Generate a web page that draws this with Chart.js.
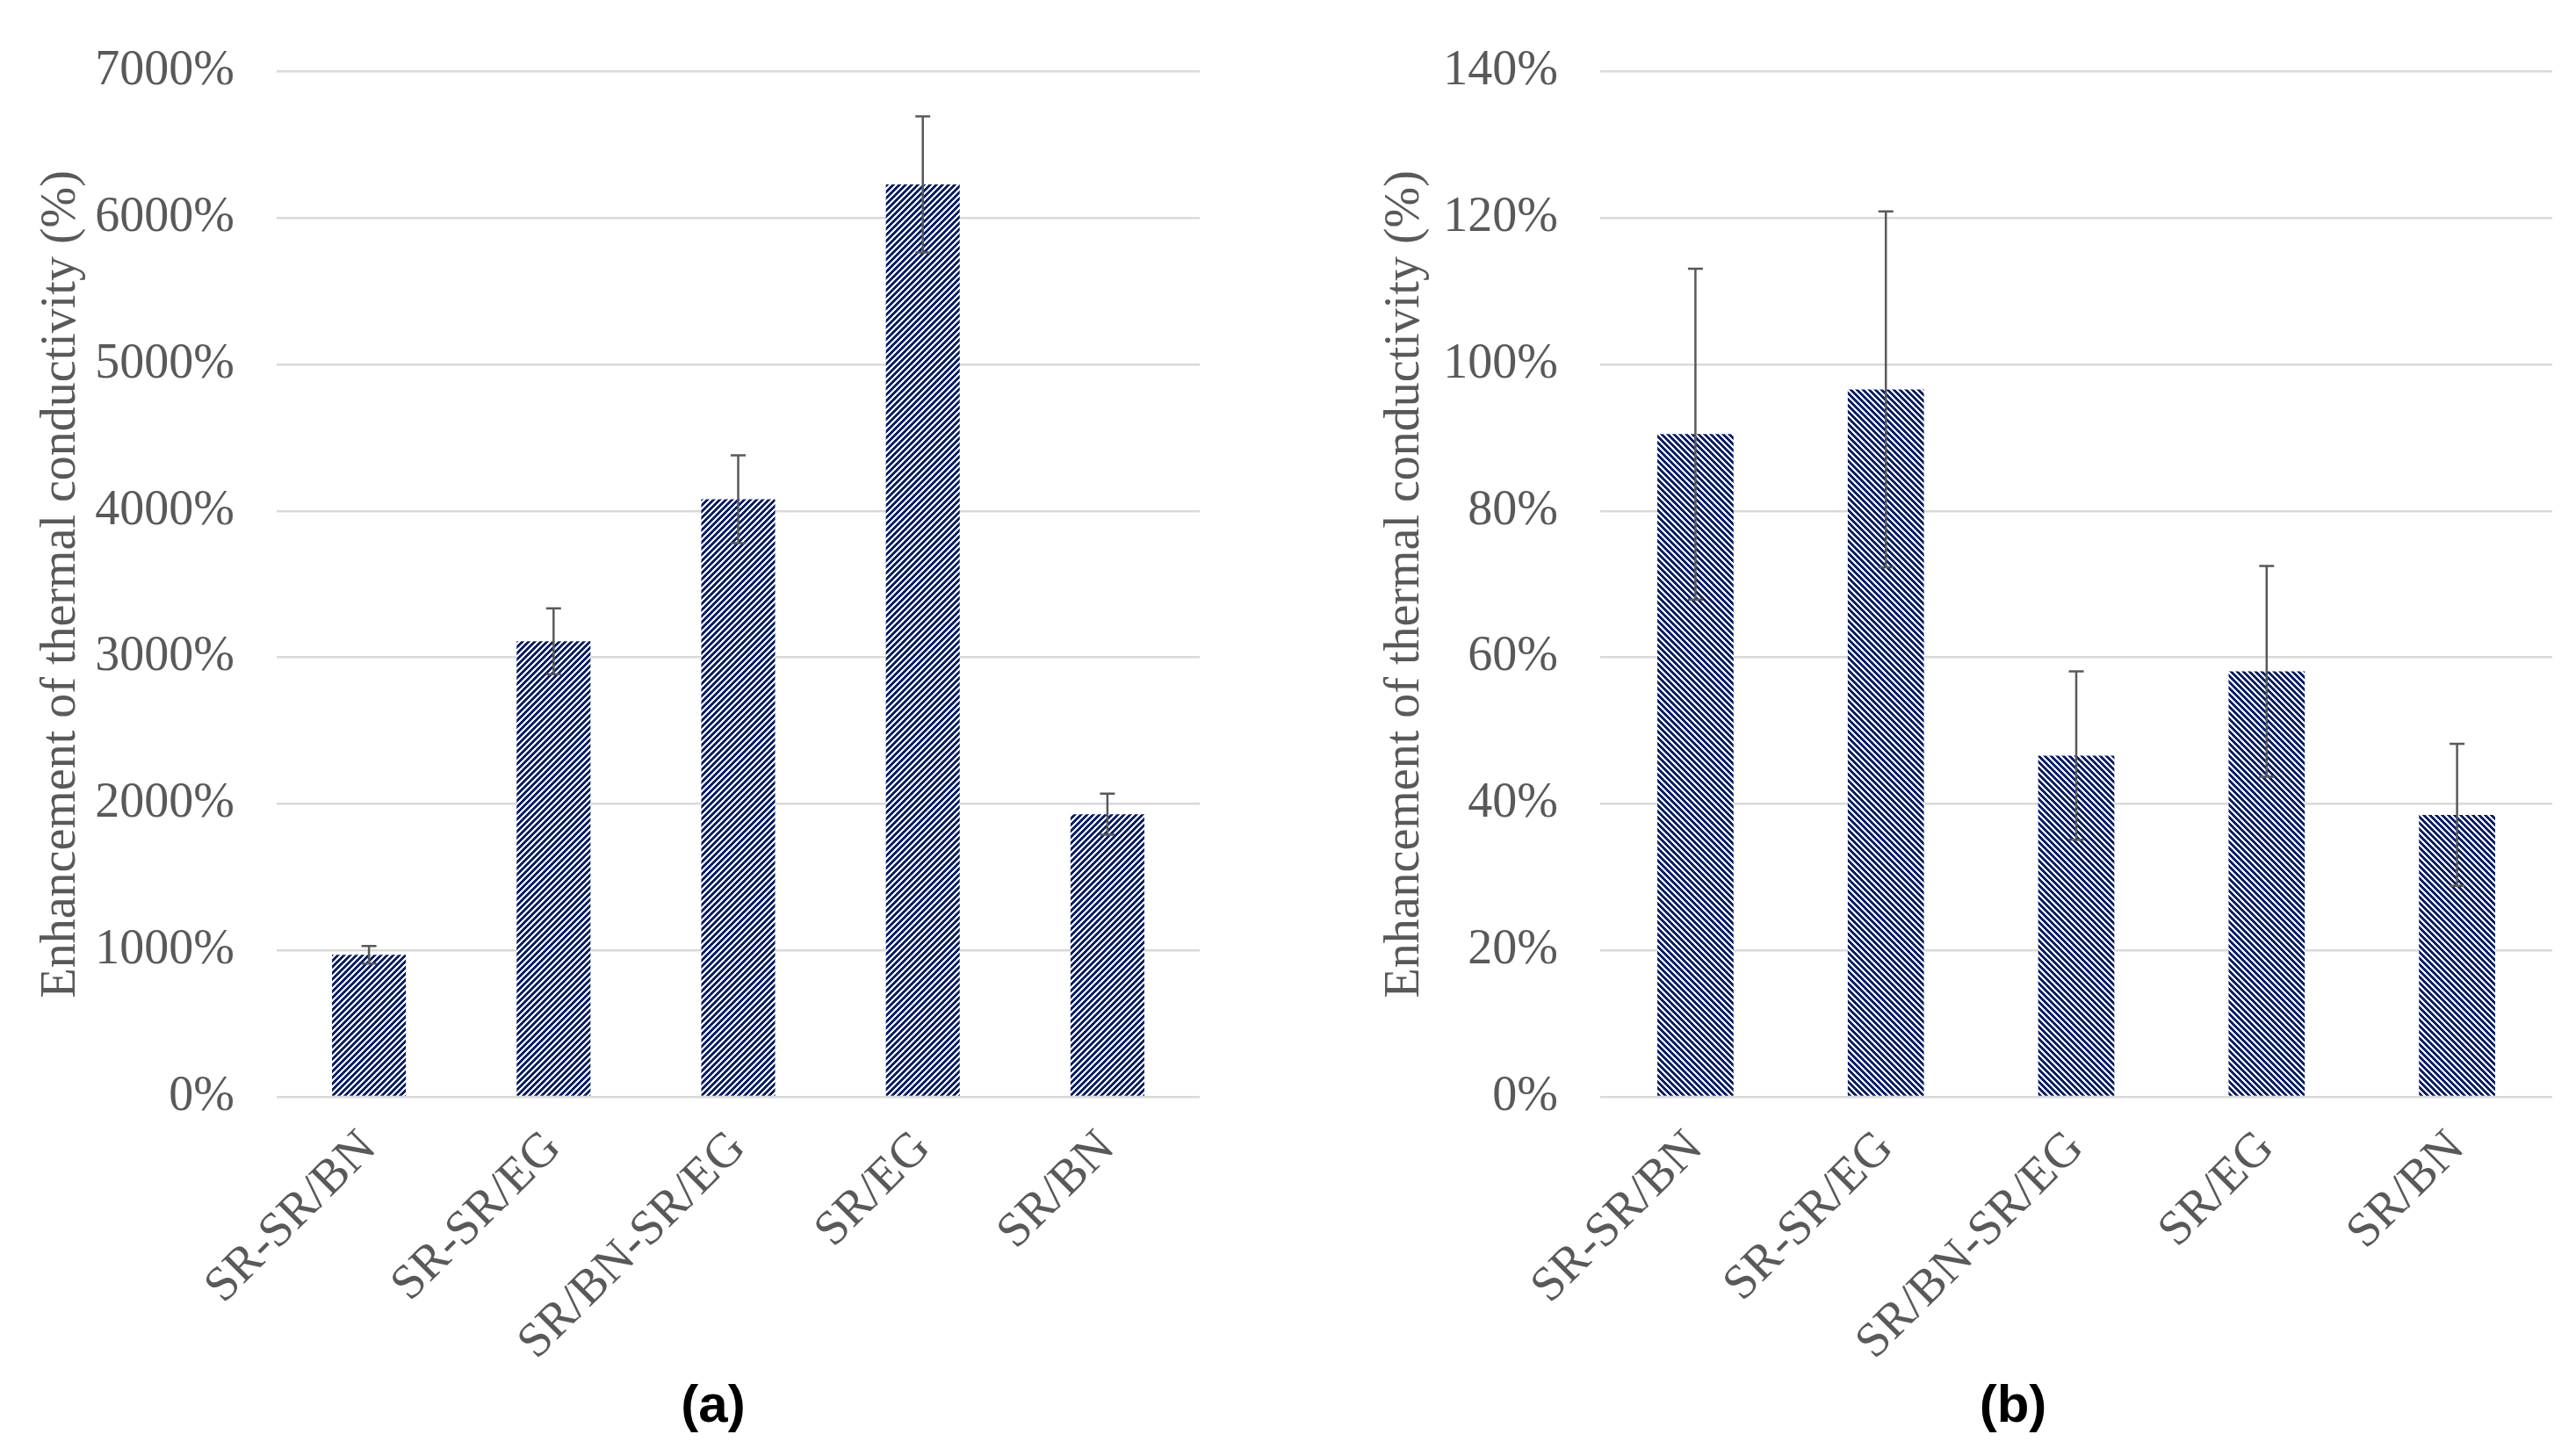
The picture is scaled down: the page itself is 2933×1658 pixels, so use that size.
<!DOCTYPE html>
<html>
<head>
<meta charset="utf-8">
<script src="https://cdn.jsdelivr.net/npm/chart.js@4/dist/chart.umd.min.js"></script>
<style>
  html, body { margin: 0; padding: 0; background: #fff; }
  body { width: 2933px; height: 1658px; position: relative; overflow: hidden; }
  .box { position: absolute; top: 0; height: 1658px; }
  .tag { position: absolute; top: 1564px; width: 200px; text-align: center;
         font: bold 60px "Liberation Sans", Arial, sans-serif; color: #000; }
</style>
</head>
<body>
<div class="box" style="left:0; width:1466px;"><canvas id="chartA"></canvas></div>
<div class="box" style="left:1466px; width:1467px;"><canvas id="chartB"></canvas></div>
<div class="tag" style="left:712px;">(a)</div>
<div class="tag" style="left:2192px;">(b)</div>
<script>
const categories = ['SR-SR/BN', 'SR-SR/EG', 'SR/BN-SR/EG', 'SR/EG', 'SR/BN'];

// (a) enhancement vs SR, with error
const enhancementA = [970, 3110, 4080, 6230, 1930];
const errorA = [60, 225, 300, 465, 140];

// (b) enhancement, with error
const enhancementB = [90.5, 96.6, 46.6, 58.1, 38.5];
const errorB = [22.6, 24.3, 11.5, 14.4, 9.7];

const yTicksA = [0, 1000, 2000, 3000, 4000, 5000, 6000, 7000];
const yTicksB = [0, 20, 40, 60, 80, 100, 120, 140];

const yTitle = 'Enhancement of thermal conductivity (%)';
const NAVY = '#0b2068';
const GREY = '#595959';
const SERIF = '"Liberation Serif", "Times New Roman", serif';

Chart.defaults.font.family = SERIF;
Chart.defaults.color = GREY;

function hatch(ctx, dir) {
  const p = 7;
  const c = document.createElement('canvas');
  c.width = c.height = p;
  const g = c.getContext('2d');
  g.fillStyle = '#fff';
  g.fillRect(0, 0, p, p);
  g.fillStyle = NAVY;
  for (let x = 0; x < p; x++) {
    for (let y = 0; y < p; y++) {
      const k = dir > 0 ? (x + y) % p : ((x - y) % p + p) % p;
      if (k < 4) g.fillRect(x, y, 1, 1);
    }
  }
  return ctx.createPattern(c, 'repeat');
}

const errorBars = {
  id: 'errorBars',
  afterDatasetsDraw(chart) {
    const ctx = chart.ctx;
    const y = chart.scales.y;
    chart.data.datasets.forEach((ds, i) => {
      const meta = chart.getDatasetMeta(i);
      meta.data.forEach((bar, j) => {
        const v = ds.data[j], e = ds.errors[j];
        const top = y.getPixelForValue(v + e);
        const bot = y.getPixelForValue(v - e);
        ctx.save();
        ctx.strokeStyle = GREY;
        ctx.lineWidth = 2.5;
        ctx.beginPath();
        ctx.moveTo(bar.x, top); ctx.lineTo(bar.x, bot);
        ctx.moveTo(bar.x - 8.5, top); ctx.lineTo(bar.x + 8.5, top);
        ctx.moveTo(bar.x - 8.5, bot); ctx.lineTo(bar.x + 8.5, bot);
        ctx.stroke();
        ctx.restore();
      });
    });
  }
};

function makeChart(id, values, errors, ticks, dir, opt) {
  const ctx = document.getElementById(id).getContext('2d');
  return new Chart(ctx, {
    type: 'bar',
    data: {
      labels: categories,
      datasets: [{
        data: values,
        errors: errors,
        backgroundColor: hatch(ctx, dir),
        borderWidth: 0,
        barPercentage: 0.8,
        categoryPercentage: 0.5
      }]
    },
    options: {
      responsive: true,
      maintainAspectRatio: false,
      devicePixelRatio: 1,
      animation: false,
      layout: { padding: { top: 80, right: opt.right, bottom: 0, left: 0 } },
      plugins: { legend: { display: false }, tooltip: { enabled: false } },
      scales: {
        x: {
          grid: { display: false },
          border: { display: false },
          afterFit(s) { s.height = 1658 - 1249; },
          ticks: {
            minRotation: 45, maxRotation: 45, padding: 18,
            font: { size: 56 }, color: GREY
          }
        },
        y: {
          min: ticks[0], max: ticks[ticks.length - 1],
          afterFit(s) { s.width = opt.left; },
          afterBuildTicks(s) { s.ticks = ticks.map(v => ({ value: v })); },
          grid: { color: '#d9d9d9', lineWidth: 2.5, drawTicks: false },
          border: { display: false },
          ticks: {
            padding: 48, font: { size: 56 }, color: GREY,
            callback: v => v + '%'
          },
          title: {
            display: true, text: yTitle, color: GREY,
            font: { size: 56, lineHeight: 1.2 },
            padding: { top: opt.titleX - 33.6, bottom: 0 }
          }
        }
      }
    },
    plugins: [errorBars]
  });
}

makeChart('chartA', enhancementA, errorA, yTicksA, 1, { left: 315, right: 100, titleX: 70 });
makeChart('chartB', enhancementB, errorB, yTicksB, -1, { left: 356, right: 27, titleX: 134 });
</script>
</body>
</html>
